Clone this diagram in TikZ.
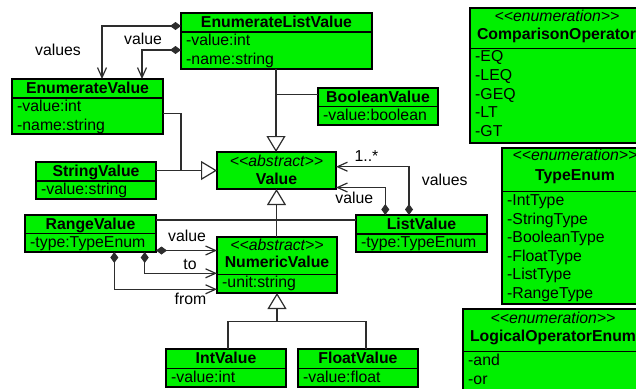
\documentclass[tikz,border=0pt]{standalone}
\usepackage{fontspec}
\setmainfont{Liberation Sans}
\usetikzlibrary{arrows.meta}
\definecolor{classfill}{RGB}{0,240,0}
\definecolor{wire}{RGB}{45,45,45}
% guillemet-free double angle brackets for stereotypes
\newcommand\stOpen{<\kern0pt<}
\newcommand\stClose{>\kern0pt>}
\begin{document}
\begin{tikzpicture}[x=1pt,y=-1pt,
  cls/.style={draw=black,fill=classfill,line width=1.2pt,inner sep=0pt,outer sep=0pt,anchor=north west},
  div/.style={draw=black,line width=1.2pt},
  txt/.style={inner sep=0pt,font=\fontsize{15.8}{18}\selectfont},
  nm/.style={txt,anchor=base,font=\fontsize{15.8}{18}\selectfont\bfseries},
  st/.style={txt,anchor=base,font=\fontsize{15.8}{18}\selectfont\itshape},
  attr/.style={txt,anchor=base west},
  lbl/.style={txt,anchor=base},
  conn/.style={draw=wire,line width=1.2pt},
  comp/.style={conn,{Diamond[length=11pt,width=8pt]}-{Straight Barb[length=10pt,width=9pt]}},
  gen/.style={conn,-{Triangle[open,length=16pt,width=19pt,fill=white]}}
]
\path[use as bounding box,clip] (0,0) rectangle (636,388);

% ---------- classes ----------
% EnumerateListValue
\node[cls,minimum width=191pt,minimum height=56pt] (elv) at (181,13) {};
\draw[div] (elv.west |- 0,32) -- (elv.east |- 0,32);
\node[nm] (elvN) at (276.5,27.5) {EnumerateListValue};
\node[attr] (elvA) at (186,45.7) {-value:int};
\node[attr] (elvB) at (186,64.3) {-name:string};

% EnumerateValue
\node[cls,minimum width=151pt,minimum height=55pt] (ev) at (12,79) {};
\draw[div] (ev.west |- 0,98) -- (ev.east |- 0,98);
\node[nm] (evN) at (87.5,93.3) {EnumerateValue};
\node[attr] (evA) at (17,111.7) {-value:int};
\node[attr] (evB) at (17,130.3) {-name:string};

% BooleanValue
\node[cls,minimum width=120pt,minimum height=37pt] (bv) at (318,88) {};
\draw[div] (bv.west |- 0,106.7) -- (bv.east |- 0,106.7);
\node[nm] (bvN) at (378,102) {BooleanValue};
\node[attr] (bvA) at (323,120) {-value:boolean};

% StringValue
\node[cls,minimum width=120pt,minimum height=37pt] (sv) at (36,162) {};
\draw[div] (sv.west |- 0,181) -- (sv.east |- 0,181);
\node[nm] (svN) at (96,176) {StringValue};
\node[attr] (svA) at (41,194.3) {-value:string};

% Value
\node[cls,minimum width=119pt,minimum height=37pt] (val) at (217,152) {};
\node[st] (valS) at (276.5,166) {\stOpen abstract\stClose};
\node[nm] (valN) at (276.5,184) {Value};

% RangeValue
\node[cls,minimum width=131pt,minimum height=37pt] (rv) at (25,215) {};
\draw[div] (rv.west |- 0,233.3) -- (rv.east |- 0,233.3);
\node[nm] (rvN) at (90.5,229) {RangeValue};
\node[attr] (rvA) at (30,247) {-type:TypeEnum};

% NumericValue
\node[cls,minimum width=120pt,minimum height=56pt] (nv) at (217,237) {};
\draw[div] (nv.west |- 0,274.3) -- (nv.east |- 0,274.3);
\node[st] (nvS) at (277,250) {\stOpen abstract\stClose};
\node[nm] (nvN) at (277,267.5) {NumericValue};
\node[attr] (nvA) at (222,287.7) {-unit:string};

% ListValue
\node[cls,minimum width=131pt,minimum height=37pt] (lv) at (356,215) {};
\draw[div] (lv.west |- 0,234) -- (lv.east |- 0,234);
\node[nm] (lvN) at (421.5,229.5) {ListValue};
\node[attr] (lvA) at (361,247) {-type:TypeEnum};

% IntValue
\node[cls,minimum width=120pt,minimum height=38pt] (iv) at (166,349) {};
\draw[div] (iv.west |- 0,368.3) -- (iv.east |- 0,368.3);
\node[nm] (ivN) at (226,363.5) {IntValue};
\node[attr] (ivA) at (171,382) {-value:int};

% FloatValue
\node[cls,minimum width=120pt,minimum height=38pt] (fv) at (298,349) {};
\draw[div] (fv.west |- 0,368.3) -- (fv.east |- 0,368.3);
\node[nm] (fvN) at (358,363.5) {FloatValue};
\node[attr] (fvA) at (303,382) {-value:float};

% ComparisonOperator
\node[cls,minimum width=176pt,minimum height=135pt] (co) at (470,8) {};
\draw[div] (co.west |- 0,48.3) -- (co.east |- 0,48.3);
\node[st] (coS) at (557,21) {\stOpen enumeration\stClose};
\node[nm] (coN) at (556.5,39.3) {ComparisonOperator};
\node[attr] (coA) at (475,61.7) {-EQ};
\node[attr] (coB) at (475,80.3) {-LEQ};
\node[attr] (coC) at (475,99) {-GEQ};
\node[attr] (coD) at (475,117.6) {-LT};
\node[attr] (coE) at (475,136.2) {-GT};

% TypeEnum
\node[cls,minimum width=146pt,minimum height=156pt] (te) at (502,148) {};
\draw[div] (te.west |- 0,191.7) -- (te.east |- 0,191.7);
\node[st] (teS) at (575,160.7) {\stOpen enumeration\stClose};
\node[nm] (teN) at (575,180.7) {TypeEnum};
\node[attr] (teA) at (507,205.4) {-IntType};
\node[attr] (teB) at (507,224) {-StringType};
\node[attr] (teC) at (507,242.6) {-BooleanType};
\node[attr] (teD) at (507,261.2) {-FloatType};
\node[attr] (teE) at (507,279.8) {-ListType};
\node[attr] (teF) at (507,298.4) {-RangeType};

% LogicalOperatorEnum
\node[cls,minimum width=180pt,minimum height=100pt] (lo) at (463,309) {};
\draw[div] (lo.west |- 0,351.7) -- (lo.east |- 0,351.7);
\node[st] (loS) at (553,323.3) {\stOpen enumeration\stClose};
\node[nm] (loN) at (553,341.7) {LogicalOperatorEnum};
\node[attr] (loA) at (468,365.4) {-and};
\node[attr] (loB) at (468,384) {-or};

% ---------- connectors ----------
% compositions EnumerateListValue -> EnumerateValue
\draw[comp] (elv.west |- 0,26) -| (102,0 |- ev.north);
\draw[comp] (elv.west |- 0,50) -| (142,0 |- ev.north);
\node[lbl] (lValues1) at (58,55.7) {values};
\node[lbl] (lValue1) at (143,44) {value};

% generalisations towards Value (top)
\coordinate (jBool) at (276,94.3);
\draw[gen] (276,0 |- elv.south) -- (276,0 |- val.north);
\draw[conn] (bv.west |- jBool) -- (jBool);

% generalisations towards Value (left)
\coordinate (jStr) at (181,170.5);
\draw[conn] (ev.east |- 0,113.3) -| (jStr);
\draw[gen] (sv.east |- val.west) -- (val.west);

% generalisations towards Value (bottom)
\draw[gen] (276.5,0 |- nv.north) -- (val.south);
\draw[conn] (rv.east |- 0,220) -- (lv.west |- 0,220);

% compositions ListValue -> Value
\draw[comp] (409,0 |- lv.north) |- (val.east |- 0,166.7);
\draw[comp] (385.3,0 |- lv.north) |- (val.east |- 0,187.5);
\node[lbl] (lMult) at (366.5,161.7) {1..*};
\node[lbl] (lValues2) at (444.7,185) {values};
\node[lbl] (lValue2) at (354.3,203.3) {value};

% compositions RangeValue -> NumericValue
\draw[comp] (rv.east |- 0,250.5) -- (nv.west |- 0,250.5);
\draw[comp] (144.7,0 |- rv.south) |- (nv.west |- 0,273.3);
\draw[comp] (114.3,0 |- rv.south) |- (nv.west |- 0,289.3);
\node[lbl] (lValue3) at (187,241.7) {value};
\node[lbl] (lTo) at (190,269.3) {to};
\node[lbl] (lFrom) at (190.5,304) {from};

% generalisations towards NumericValue
\coordinate (jNum) at (277,321.7);
\draw[gen] (jNum) -- (nv.south);
\draw[conn] (228,0 |- iv.north) |- (366,321.7) -- (366,0 |- fv.north);
\end{tikzpicture}
\end{document}
